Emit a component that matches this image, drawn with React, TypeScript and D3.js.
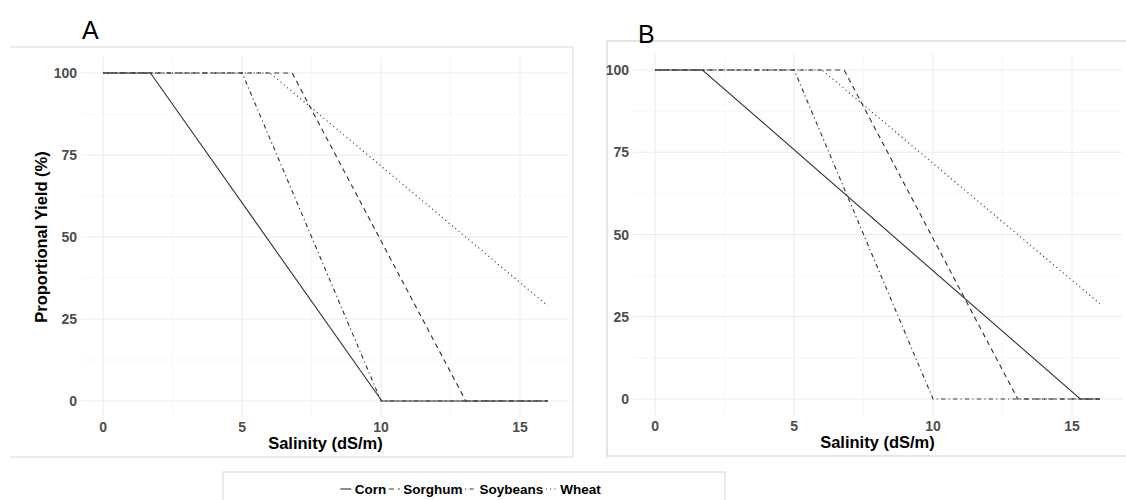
import React from "react";
import * as d3 from "d3";

// ---------- data ----------
const CROPS = ["Corn", "Sorghum", "Soybeans", "Wheat"];
const X_TICKS = [0, 5, 10, 15];
const X_MINOR = [2.5, 7.5, 12.5];
const Y_TICKS = [0, 25, 50, 75, 100];
const Y_MINOR = [12.5, 37.5, 62.5, 87.5];

// breakpoints [salinity, yield %]
const cornA: [number, number][] = [[0, 100], [1.7, 100], [10.03, 0], [16, 0]];
const cornB: [number, number][] = [[0, 100], [1.7, 100], [15.3, 0], [16, 0]];
const sorghum: [number, number][] = [[0, 100], [6.8, 100], [13.05, 0], [16, 0]];
const soybeans: [number, number][] = [[0, 100], [5.0, 100], [10.0, 0], [16, 0]];
const wheat: [number, number][] = [[0, 100], [6.0, 100], [16, 29]];

const PANEL_A = [cornA, sorghum, soybeans, wheat];
const PANEL_B = [cornB, sorghum, soybeans, wheat];

// ---------- styles ----------
const DASH = ["", "5,4", "1.2,3.2,4.3,3.2", "1.1,3.2"];
const LINE_COLOR = "#383838";
const FONT = "'Liberation Sans', Arial, Helvetica, sans-serif";
const GRID_MAJOR = "#ebebeb";
const GRID_MINOR = "#f3f3f3";
const TICK_COLOR = "#4d4d4d";
const TICK_SIZE = 14;
const TITLE_SIZE = 16.5;
const LEGEND_SIZE = 13.5;

type PanelProps = {
  series: [number, number][][];
  xLeft: number;
  xRight: number;
  yTop: number;
  yBottom: number;
  yTitle?: string;
  tickYOffset: number;
};

function Panel({ series, xLeft, xRight, yTop, yBottom, yTitle, tickYOffset }: PanelProps) {
  const x = d3.scaleLinear().domain([-0.8, 16.8]).range([xLeft, xRight]);
  const y = d3.scaleLinear().domain([-5, 105]).range([yBottom, yTop]);
  const line = d3
    .line<[number, number]>()
    .x((d) => x(d[0]))
    .y((d) => y(d[1]));
  const cx = (xLeft + xRight) / 2;
  const cy = (yTop + yBottom) / 2;
  return (
    <g>
      {X_MINOR.map((v) => (
        <line key={"xm" + v} x1={x(v)} x2={x(v)} y1={yTop} y2={yBottom} stroke={GRID_MINOR} strokeWidth={0.7} />
      ))}
      {Y_MINOR.map((v) => (
        <line key={"ym" + v} x1={xLeft} x2={xRight} y1={y(v)} y2={y(v)} stroke={GRID_MINOR} strokeWidth={0.7} />
      ))}
      {X_TICKS.map((v) => (
        <line key={"xM" + v} x1={x(v)} x2={x(v)} y1={yTop} y2={yBottom} stroke={GRID_MAJOR} strokeWidth={1} />
      ))}
      {Y_TICKS.map((v) => (
        <line key={"yM" + v} x1={xLeft} x2={xRight} y1={y(v)} y2={y(v)} stroke={GRID_MAJOR} strokeWidth={1} />
      ))}
      {series.map((s, i) => (
        <path
          key={CROPS[i]}
          d={line(s) || ""}
          fill="none"
          stroke={LINE_COLOR}
          strokeWidth={1.15}
          strokeDasharray={DASH[i] || undefined}
        />
      ))}
      {X_TICKS.map((v) => (
        <text
          key={"xt" + v}
          x={x(v)}
          y={yBottom + tickYOffset}
          textAnchor="middle"
          dominantBaseline="central"
          fontFamily={FONT}
          fontWeight="bold"
          fontSize={TICK_SIZE}
          fill={TICK_COLOR}
        >
          {v}
        </text>
      ))}
      {Y_TICKS.map((v) => (
        <text
          key={"yt" + v}
          x={xLeft - 4}
          y={y(v)}
          textAnchor="end"
          dominantBaseline="central"
          fontFamily={FONT}
          fontWeight="bold"
          fontSize={TICK_SIZE}
          fill={TICK_COLOR}
        >
          {v}
        </text>
      ))}
      <text
        x={cx}
        y={yBottom + 26}
        textAnchor="middle"
        dominantBaseline="central"
        fontFamily={FONT}
        fontWeight="bold"
        fontSize={TITLE_SIZE}
        fill="#000"
      >
        Salinity (dS/m)
      </text>
      {yTitle && (
        <text
          transform={`translate(${xLeft - 40},${cy}) rotate(-90)`}
          textAnchor="middle"
          dominantBaseline="central"
          fontFamily={FONT}
          fontWeight="bold"
          fontSize={TITLE_SIZE}
          fill="#000"
        >
          {yTitle}
        </text>
      )}
    </g>
  );
}

function measure(text: string, size: number): number {
  if (typeof document === "undefined") return text.length * size * 0.6;
  const c = document.createElement("canvas");
  const ctx = c.getContext("2d");
  if (!ctx) return text.length * size * 0.6;
  ctx.font = `bold ${size}px 'Liberation Sans', Arial, sans-serif`;
  return ctx.measureText(text).width;
}

export default function App() {
  const legendY = 489;
  const keyW = 11;
  const keyGap = 3.5;
  const itemGap = 2.5;
  const widths = CROPS.map((c) => measure(c, LEGEND_SIZE));
  const total = widths.reduce((a, b) => a + b, 0) + CROPS.length * (keyW + keyGap) + (CROPS.length - 1) * itemGap;
  let cursor = 470.5 - total / 2;
  const items = CROPS.map((c, i) => {
    const k1 = cursor;
    const tx = k1 + keyW + keyGap;
    cursor = tx + widths[i] + itemGap;
    return { c, k1, k2: k1 + keyW, tx, dash: DASH[i] };
  });

  return (
    <svg width={1126} height={500} style={{ position: "absolute", left: 0, top: 0, background: "#fff" }}>
      <rect x={0} y={0} width={1126} height={500} fill="#fff" />
      {/* panel A frame */}
      <path d="M10,47 L573,47 L573,457 L10,457" fill="none" stroke="#d6d6d6" strokeWidth={1} />
      {/* panel B frame */}
      <rect x={607} y={41} width={560} height={415} fill="none" stroke="#d6d6d6" strokeWidth={1.2} />
      <Panel series={PANEL_A} xLeft={81} xRight={570} yTop={56.6} yBottom={417.4} yTitle="Proportional Yield (%)" tickYOffset={10} />
      <Panel series={PANEL_B} xLeft={633} xRight={1122} yTop={53.5} yBottom={415.5} tickYOffset={10} />
      <text x={82} y={39} fontFamily={FONT} fontSize={25} fill="#000">A</text>
      <text x={638} y={43} fontFamily={FONT} fontSize={25} fill="#000">B</text>
      {/* legend */}
      <rect x={223} y={472} width={502} height={40} fill="#fff" stroke="#d6d6d6" strokeWidth={1} />
      {items.map((it) => (
        <g key={it.c}>
          <line x1={it.k1} x2={it.k2} y1={legendY} y2={legendY} stroke={LINE_COLOR} strokeWidth={1.15} strokeDasharray={it.dash || undefined} />
          <text x={it.tx} y={legendY} dominantBaseline="central" fontFamily={FONT} fontWeight="bold" fontSize={LEGEND_SIZE} fill="#000">
            {it.c}
          </text>
        </g>
      ))}
    </svg>
  );
}
